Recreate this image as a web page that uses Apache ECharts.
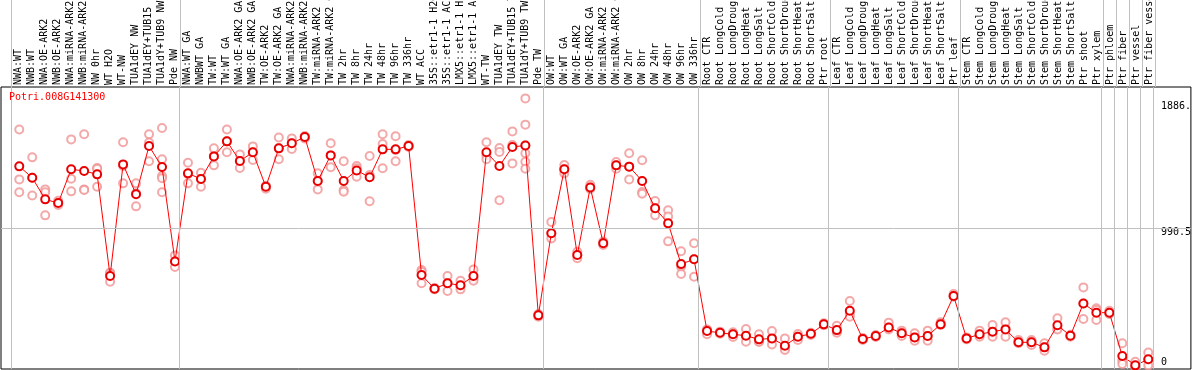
<!DOCTYPE html>
<html><head><meta charset="utf-8">
<script src="https://cdn.jsdelivr.net/npm/echarts@6/dist/echarts.min.js"></script>
<style>html,body{margin:0;padding:0;background:#fff}#c{width:1194px;height:370px}</style>
</head><body><div id="c"></div>
<script>
const geneName = 'Potri.008G141300';
const categories = [
'NWA:WT','NWB:WT','NWA:OE-ARK2','NWB:OE-ARK2','NWA:miRNA-ARK2','NWB:miRNA-ARK2','NW 0hr','WT H2O','WT-NW','TUA1dEY NW','TUA1dEY+TUB15 NW','TUA1dY+TUB9 NW','Pde NW',
'NWA:WT GA','NWBWT GA','TW:WT','TW:WT GA','NWA:OE-ARK2 GA','NWB:OE-ARK2 GA','TW:OE-ARK2','TW:OE-ARK2 GA','NWA:miRNA-ARK2 GA','NWB:miRNA-ARK2 GA','TW:miRNA-ARK2','TW:miRNA-ARK2 GA',
'TW 2hr','TW 8hr','TW 24hr','TW 48hr','TW 96hr','TW 336hr','WT ACC','35S::etr1-1 H2O','35S::etr1-1 ACC','LMX5::etr1-1 H2O','LMX5::etr1-1 ACC','WT-TW','TUA1dEY TW','TUA1dEY+TUB15 TW','TUA1dY+TUB9 TW','Pde TW',
'OW:WT','OW:WT GA','OW:OE-ARK2','OW:OE-ARK2 GA','OW:miRNA-ARK2','OW:miRNA-ARK2 GA','OW 2hr','OW 8hr','OW 24hr','OW 48hr','OW 96hr','OW 336hr',
'Root CTR','Root LongCold','Root LongDrought','Root LongHeat','Root LongSalt','Root ShortCold','Root ShortDrought','Root ShortHeat','Root ShortSalt','Ptr root',
'Leaf CTR','Leaf LongCold','Leaf LongDrought','Leaf LongHeat','Leaf LongSalt','Leaf ShortCold','Leaf ShortDrought','Leaf ShortHeat','Leaf ShortSalt','Ptr leaf',
'Stem CTR','Stem LongCold','Stem LongDrought','Stem LongHeat','Stem LongSalt','Stem ShortCold','Stem ShortDrought','Stem ShortHeat','Stem ShortSalt','Ptr shoot','Ptr xylem',
'Ptr phloem','Ptr fiber','Ptr vessel','Ptr fiber vessel'];
// number of categories in each separated group
const groupSizes = [13, 28, 12, 10, 10, 11, 1, 1, 1, 1];
const means = [
1429,1348,1194,1168,1408,1396,1372,648,1443,1230,1574,1424,752,
1379,1339,1500,1607,1467,1529,1284,1557,1593,1638,1325,1507,
1325,1400,1351,1550,1550,1574,655,558,596,582,648,1529,1431,1567,1578,368,
952,1408,798,1279,881,1436,1427,1325,1130,1023,733,767,
256,244,233,223,197,204,152,216,237,304,
263,401,199,221,282,240,211,221,304,506,
204,233,252,268,176,176,140,297,223,453,387,
387,78,12,55];
const replicates = [
[1692,1336,1244],[1493,1348,1222],[1265,1244,1080],[1184,1168,1154],[1621,1341,1251],[1657,1265,1260],[1417,1412,1284],[672,667,608],[1600,1431,1308],[1308,1237,1144],[1657,1598,1465],[1702,1479,1360,1344,1244],[795,752,712],
[1455,1374,1308],[1384,1339,1284],[1557,1500,1436],[1692,1607,1529],[1514,1467,1417],[1571,1529,1474],[1291,1284,1270],[1635,1557,1479],[1628,1593,1552],[1645,1638,1628],[1379,1325,1265],[1593,1507,1422],
[1465,1260,1249],[1431,1415,1355],[1503,1367,1180],[1657,1588,1415],[1643,1545,1465],[1581,1574,1567],[691,679,596],[563,558,553],[648,596,541],[615,577,553],[695,631,615],[1600,1507,1479],[1560,1531,1187],[1678,1581,1450],[1913,1726,1578,1522,1462,1412],[377,368,358],
[1033,952,916],[1438,1408,1379],[821,798,774],[1298,1279,1268],[893,881,869],[1460,1436,1412],[1522,1427,1336],[1472,1246,1234],[1182,1130,1080],[1116,1071,895],[824,714,662],[881,767,643],
[268,256,233],[252,244,237],[247,233,214],[271,221,180],[233,180,180],[256,197,161],[204,133,121],[235,216,192],[244,237,228],[311,304,297],
[294,252,244],[470,377,358],[206,199,192],[228,221,214],[316,282,268],[259,240,221],[240,211,188],[259,221,188],[318,304,299],[520,506,501],
[211,204,197],[259,228,216],[299,240,216],[318,268,216],[192,176,169],[192,157,176],[169,140,116],[347,273,268],[230,223,216],[567,453,342],[418,406,335],
[401,387,377],[169,45,21],[38,7,0],[104,50,12]];
const yTickValues = [0, 990.5, 1886];
const yTickText = ['0', '990.5', '1886.'];

const xMin = 1 - 18.3 / 13, xMax = xMin + 1192 / 13;
const meanData = means.map((v, i) => [i + 1, v]);
const repData = [];
replicates.forEach((arr, i) => arr.forEach(v => repData.push([i + 1, v])));
const sepVals = [];
let acc = 0;
sepVals.push(acc + 0.3615);
groupSizes.forEach(s => { acc += s; sepVals.push(acc + 0.3615); });
const sepLines = sepVals.map(v => ({ xAxis: v }));
const sepStyle = { color: '#c0c0c0', width: 1, type: 'solid' };
const mono = 'DejaVu Sans Mono';

const chart = echarts.init(document.getElementById('c'), null, { renderer: 'canvas' });
chart.setOption({
  animation: false,
  backgroundColor: '#fff',
  title: { text: geneName, left: 9, top: 92, padding: 0,
    textStyle: { color: '#ff0000', fontSize: 10, fontWeight: 'normal', fontFamily: mono } },
  grid: [
    { left: 1, right: 1, top: 87, bottom: 1, show: true, borderColor: '#000', borderWidth: 1, backgroundColor: 'transparent' },
    { left: 1, right: 1, top: 0, height: 87, show: false },
    { left: 12, width: 1144, top: 87, height: 1, show: false }
  ],
  xAxis: [
    { gridIndex: 0, type: 'value', min: xMin, max: xMax, show: false },
    { gridIndex: 1, type: 'value', min: xMin, max: xMax, show: false },
    { gridIndex: 2, type: 'category', data: categories, position: 'top', boundaryGap: true,
      axisLine: { show: false }, axisTick: { show: false }, splitLine: { show: false },
      axisLabel: { rotate: 90, interval: 0, margin: 3, color: '#000', fontSize: 10, fontFamily: mono } }
  ],
  yAxis: [
    { gridIndex: 0, type: 'value', position: 'right', min: -14, max: 1994,
      axisLine: { show: false }, axisTick: { show: false }, splitLine: { show: false },
      axisLabel: { inside: true, align: 'left', margin: 30, customValues: yTickValues, showMinLabel: true, showMaxLabel: true,
        color: '#000', fontSize: 10, fontFamily: mono,
        formatter: v => { const i = yTickValues.indexOf(v); const t = i >= 0 ? yTickText[i] : ''; return v === 0 ? '{b|' + t + '}' : '{t|' + t + '}'; },
        rich: { t: { padding: [9, 0, 0, 0], fontSize: 10, fontFamily: mono, color: '#000' },
                b: { padding: [0, 0, 9, 0], fontSize: 10, fontFamily: mono, color: '#000' } } } },
    { gridIndex: 1, type: 'value', min: 0, max: 1, show: false },
    { gridIndex: 2, type: 'value', show: false }
  ],
  series: [
    { type: 'line', xAxisIndex: 1, yAxisIndex: 1, data: [], silent: true,
      markLine: { silent: true, symbol: 'none', label: { show: false }, lineStyle: sepStyle,
        data: sepLines.concat([{ xAxis: xMin, lineStyle: { color: '#000', type: 'solid', width: 1 } }]) } },
    { type: 'line', xAxisIndex: 0, yAxisIndex: 0, data: [], silent: true,
      markLine: { silent: true, symbol: 'none', label: { show: false }, lineStyle: sepStyle,
        data: sepLines.concat([{ yAxis: 990.5 }]) } },
    { name: 'replicates', type: 'scatter', xAxisIndex: 0, yAxisIndex: 0, data: repData,
      symbol: 'emptyCircle', symbolSize: 8, itemStyle: { color: '#f09494', borderWidth: 1.2 }, z: 3 },
    { name: 'mean', type: 'line', xAxisIndex: 0, yAxisIndex: 0, data: meanData,
      symbol: 'emptyCircle', symbolSize: 8, showAllSymbol: true,
      lineStyle: { color: '#ff0000', width: 1 },
      itemStyle: { color: '#e80000', borderWidth: 1.3 }, z: 4 }
  ]
});
</script></body></html>
